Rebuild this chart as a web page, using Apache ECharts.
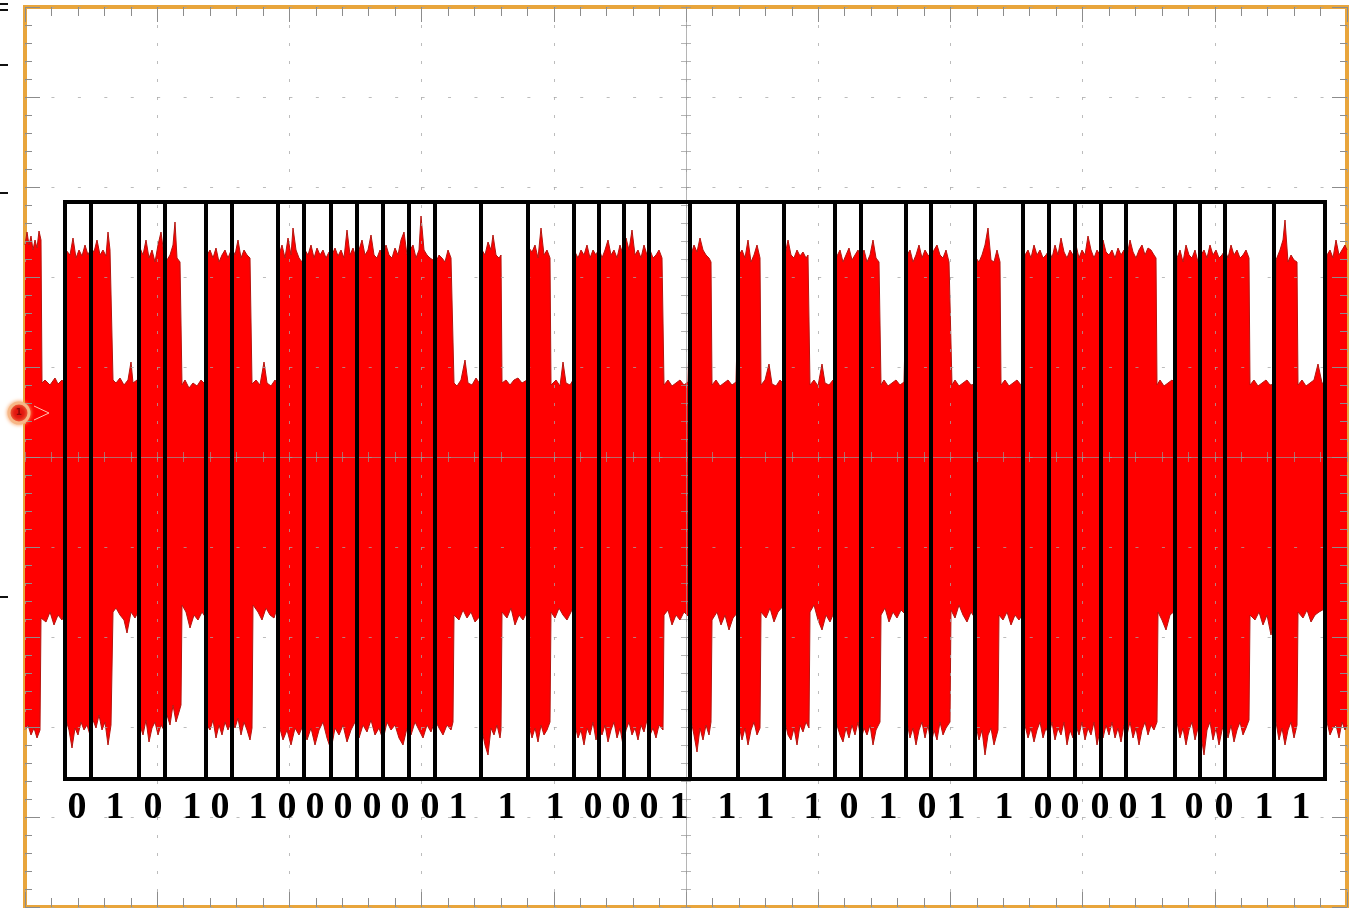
<!DOCTYPE html>
<html>
<head>
<meta charset="utf-8">
<title>ASK burst capture</title>
<script src="https://cdn.jsdelivr.net/npm/echarts@6/dist/echarts.min.js"></script>
<style>
	html, body { margin: 0; padding: 0; background: #fff; }
	#chart { width: 1355px; height: 908px; }
</style>
</head>
<body>
<div id="chart"></div>
<script>
// scope graticule, trace units per division
var DIV_T = 132.2, DIV_V = 90;

// upper envelope of the carrier [t, v]
var traceTop = [
	[-661,212],[-659,225],[-657,212],[-655,221],[-653,207],[-651,217],[-649,209],[-647,226],[-645,217],
	[-644,74],[-641,77],[-636,72],[-631,79],[-628,73],[-624,77],[-622,74],[-621,74],
	[-620,207],[-616,202],[-613,219],[-610,199],[-607,207],[-604,201],[-601,212],[-598,202],[-595,209],[-592,205],[-589,217],[-586,202],[-583,207],[-580,201],[-578,225],[-576,207],[-574,205],
	[-573,77],[-570,74],[-566,79],[-562,72],[-558,77],[-555,95],[-553,74],[-549,77],[-547,72],
	[-546,209],[-543,202],[-540,217],[-537,199],[-534,207],[-531,195],[-528,212],[-525,225],[-522,202],[-519,197],[-516,202],[-513,212],[-511,235],[-509,199],[-506,195],
	[-504,72],[-501,77],[-497,69],[-493,74],[-489,71],[-485,77],[-481,73],[-480,71],
	[-479,202],[-476,207],[-473,199],[-470,209],[-467,195],[-464,202],[-461,207],[-458,199],[-454,209],[-451,202],[-448,217],[-445,199],[-442,207],[-439,202],[-436,199],
	[-434,73],[-430,77],[-426,72],[-422,95],[-419,74],[-415,71],[-411,77],[-408,72],
	[-407,202],[-404,212],[-401,199],[-398,219],[-395,202],[-393,229],[-390,207],[-387,199],[-384,195],[-381,207],[-378,202],[-375,212],[-372,199],[-369,209],[-366,202],[-363,207],[-360,199],[-357,205],[-354,202],[-351,209],[-348,201],[-345,207],[-342,199],[-339,227],[-336,202],[-333,209],[-330,199],[-327,207],[-324,217],[-321,202],[-318,207],[-315,222],[-312,202],[-309,199],[-306,207],[-303,202],[-300,212],[-297,202],[-294,199],[-291,209],[-288,202],[-285,217],[-282,225],[-279,202],[-276,207],[-273,212],[-270,199],[-267,207],[-265,241],[-262,207],[-259,202],[-256,199],[-253,197],[-250,195],[-247,202],[-244,199],[-241,195],[-238,207],[-235,199],[-233,197],
	[-232,74],[-229,71],[-225,77],[-221,97],[-218,74],[-214,72],[-210,79],[-206,73],[-205,73],
	[-204,207],[-201,202],[-198,215],[-195,207],[-193,222],[-190,202],[-187,199],[-185,202],
	[-184,74],[-180,77],[-176,72],[-172,77],[-168,79],[-164,74],[-159,77],[-158,75],
	[-157,209],[-154,205],[-151,212],[-148,199],[-145,229],[-142,202],[-139,207],[-136,199],
	[-135,72],[-130,77],[-126,71],[-123,95],[-120,74],[-116,72],[-113,77],[-112,73],
	[-111,205],[-108,199],[-105,207],[-102,202],[-99,212],[-96,199],[-93,207],[-90,202],[-87,209],[-84,199],[-81,207],[-78,217],[-75,202],[-72,207],[-69,199],[-66,212],[-63,202],[-60,219],[-57,207],[-54,227],[-51,202],[-48,207],[-45,199],[-42,212],[-39,202],[-36,207],[-33,199],[-30,202],[-27,207],[-24,199],
	[-22,72],[-18,77],[-14,71],[-10,74],[-6,77],[-2,72],[2,75],[4,73],
	[5,202],[8,212],[11,205],[14,219],[17,207],[20,202],[23,199],[25,195],
	[26,72],[30,77],[34,71],[38,74],[42,77],[46,72],[50,75],[52,73],
	[53,202],[56,207],[59,199],[62,217],[65,195],[68,202],[71,212],[74,199],
	[75,72],[79,77],[83,93],[86,73],[90,71],[94,77],[98,73],
	[99,202],[102,217],[105,202],[108,199],[111,207],[114,201],[117,205],[120,199],[122,202],
	[124,72],[128,77],[132,71],[136,93],[139,74],[143,72],[147,77],[149,73],
	[150,199],[154,207],[157,195],[160,202],[163,209],[166,197],[169,202],[172,207],[175,199],[178,207],[181,195],[184,202],[187,217],[190,199],[193,195],
	[195,72],[198,77],[202,71],[206,74],[210,77],[214,72],[218,75],[220,73],
	[221,202],[224,207],[227,195],[230,202],[233,212],[236,199],[239,207],[242,202],[245,199],[248,207],[251,212],[254,202],[257,199],[260,207],[263,195],
	[266,72],[269,77],[273,71],[277,74],[281,77],[285,72],[289,73],
	[290,199],[293,195],[296,202],[299,212],[302,229],[305,197],[308,195],[311,207],[314,195],
	[315,72],[319,77],[323,71],[327,74],[331,77],[335,72],[338,73],
	[339,202],[342,207],[345,199],[348,212],[351,202],[354,207],[357,199],[360,202],[363,207],[366,199],[369,212],[372,202],[375,219],[378,205],[381,199],[384,207],[387,202],[390,212],[393,199],[396,207],[399,202],[402,221],[405,207],[408,199],[411,207],[414,202],[417,217],[420,205],[423,202],[426,207],[429,199],[432,209],[435,202],[438,207],[441,201],[444,217],[447,205],[450,199],[453,207],[456,212],[459,202],[462,209],[465,207],[468,202],[470,199],
	[471,72],[474,77],[478,71],[482,74],[486,77],[490,73],
	[491,199],[494,207],[497,195],[500,212],[503,202],[506,199],[509,207],[512,195],[515,202],[518,207],[521,199],[524,212],[527,202],[530,207],[533,199],[536,202],[539,207],[542,199],[545,212],[548,202],[551,207],[554,199],[557,202],[560,207],[563,199],
	[564,72],[568,77],[572,71],[576,74],[580,77],[584,72],[589,73],
	[590,197],[594,207],[597,217],[599,237],[602,195],[605,202],[608,197],[611,195],
	[612,72],[616,77],[620,71],[624,74],[628,77],[632,93],[636,74],[640,73],
	[641,202],[644,207],[647,199],[650,217],[653,202],[656,207],[659,212],[661,207]
];

// lower envelope of the carrier [t, v]
var traceBottom = [
	[-661,-273],[-658,-268],[-655,-278],[-652,-271],[-649,-281],[-646,-273],
	[-645,-161],[-640,-165],[-636,-155],[-632,-168],[-628,-158],[-624,-163],[-621,-155],
	[-620,-263],[-617,-273],[-614,-291],[-611,-271],[-608,-278],[-605,-265],[-602,-273],[-599,-268],[-596,-278],[-593,-263],[-590,-271],[-587,-258],[-584,-273],[-581,-265],[-578,-288],[-575,-268],
	[-573,-155],[-570,-151],[-566,-158],[-562,-163],[-559,-176],[-555,-155],[-551,-161],[-547,-153],
	[-546,-268],[-543,-278],[-540,-263],[-537,-285],[-534,-271],[-531,-265],[-528,-278],[-525,-268],[-522,-273],[-519,-258],[-516,-268],[-513,-248],[-510,-265],[-507,-255],[-505,-248],
	[-504,-148],[-500,-155],[-496,-171],[-492,-158],[-488,-163],[-484,-155],[-480,-161],
	[-479,-268],[-476,-273],[-473,-263],[-470,-281],[-467,-268],[-464,-278],[-461,-265],[-458,-273],[-454,-263],[-451,-271],[-448,-261],[-445,-278],[-442,-265],[-439,-273],[-436,-283],[-434,-271],
	[-433,-148],[-428,-155],[-424,-163],[-420,-151],[-416,-158],[-412,-161],[-408,-148],
	[-407,-268],[-403,-283],[-399,-273],[-395,-288],[-391,-271],[-387,-278],[-383,-268],[-379,-283],[-375,-271],[-371,-288],[-367,-273],[-363,-265],[-359,-281],[-355,-293],[-351,-271],[-347,-278],[-343,-268],[-339,-285],[-335,-273],[-331,-265],[-327,-281],[-323,-268],[-319,-275],[-315,-263],[-311,-278],[-307,-271],[-303,-283],[-299,-265],[-295,-273],[-291,-268],[-287,-281],[-283,-288],[-279,-271],[-275,-278],[-271,-265],[-267,-273],[-263,-281],[-259,-268],[-255,-275],[-251,-263],[-247,-271],[-243,-278],[-239,-268],[-235,-273],[-233,-265],
	[-232,-158],[-227,-163],[-223,-153],[-219,-161],[-215,-155],[-211,-165],[-205,-158],
	[-204,-273],[-201,-288],[-198,-298],[-195,-271],[-192,-278],[-189,-268],[-186,-281],[-185,-273],
	[-184,-155],[-179,-161],[-175,-151],[-171,-168],[-167,-158],[-163,-163],[-158,-153],
	[-157,-268],[-154,-281],[-151,-271],[-148,-285],[-145,-268],[-142,-278],[-139,-273],[-136,-265],
	[-135,-155],[-131,-161],[-127,-151],[-123,-158],[-119,-163],[-115,-155],[-112,-148],
	[-111,-268],[-108,-281],[-105,-273],[-102,-288],[-99,-271],[-96,-278],[-93,-265],[-90,-283],[-87,-271],[-84,-278],[-81,-268],[-78,-285],[-75,-273],[-72,-265],[-69,-281],[-66,-271],[-63,-288],[-60,-273],[-57,-265],[-54,-278],[-51,-271],[-48,-283],[-45,-268],[-42,-275],[-39,-263],[-36,-278],[-33,-271],[-30,-281],[-27,-268],[-23,-273],
	[-22,-158],[-18,-153],[-14,-168],[-10,-158],[-6,-163],[-2,-155],[4,-161],
	[5,-263],[8,-278],[11,-295],[14,-271],[17,-283],[20,-268],[23,-278],[25,-265],
	[26,-163],[31,-155],[35,-168],[39,-158],[43,-173],[47,-161],[52,-155],
	[53,-268],[56,-283],[59,-271],[62,-288],[65,-273],[68,-265],[71,-278],[74,-271],
	[75,-155],[80,-161],[84,-151],[88,-165],[92,-155],[98,-148],
	[99,-265],[102,-278],[105,-283],[108,-271],[111,-288],[114,-268],[117,-275],[120,-265],[123,-271],
	[124,-155],[128,-148],[132,-163],[136,-173],[140,-158],[144,-165],[149,-153],
	[150,-265],[154,-278],[157,-285],[160,-271],[163,-281],[166,-268],[169,-278],[172,-265],[175,-283],[178,-271],[181,-278],[184,-268],[187,-288],[190,-273],[194,-265],
	[195,-158],[199,-151],[203,-165],[207,-155],[211,-161],[215,-153],[220,-158],
	[221,-265],[224,-281],[227,-271],[230,-288],[233,-273],[236,-265],[239,-281],[242,-268],[245,-288],[248,-273],[251,-283],[254,-265],[257,-278],[260,-271],[264,-265],
	[265,-153],[269,-161],[273,-148],[277,-158],[281,-165],[285,-155],[289,-161],
	[290,-268],[293,-283],[296,-273],[299,-298],[302,-278],[305,-271],[308,-288],[312,-273],
	[313,-158],[317,-163],[321,-155],[325,-168],[329,-158],[333,-163],[338,-155],
	[339,-268],[342,-281],[345,-271],[348,-285],[351,-273],[354,-265],[357,-281],[360,-271],[363,-278],[366,-265],[369,-283],[372,-271],[375,-278],[378,-265],[381,-288],[384,-273],[387,-281],[390,-268],[393,-278],[396,-265],[399,-283],[402,-271],[405,-278],[408,-265],[411,-288],[414,-273],[417,-281],[420,-268],[423,-278],[426,-265],[429,-281],[432,-271],[435,-285],[438,-268],[441,-278],[444,-265],[447,-281],[450,-271],[453,-288],[456,-273],[459,-265],[462,-278],[465,-268],[468,-273],[471,-265],
	[472,-155],[476,-163],[480,-173],[484,-158],[490,-153],
	[491,-265],[494,-281],[497,-271],[500,-288],[503,-273],[506,-265],[509,-283],[512,-271],[515,-278],[518,-298],[521,-273],[524,-265],[527,-283],[530,-271],[533,-288],[536,-273],[539,-265],[542,-281],[545,-268],[548,-285],[551,-273],[554,-265],[557,-278],[560,-271],[563,-263],
	[564,-158],[569,-163],[573,-155],[577,-168],[581,-158],[585,-178],[589,-155],
	[590,-265],[593,-283],[596,-271],[599,-288],[602,-273],[605,-265],[608,-281],[611,-268],
	[612,-155],[617,-161],[621,-153],[625,-165],[629,-158],[633,-155],[640,-151],
	[641,-265],[644,-278],[647,-271],[650,-268],[653,-281],[656,-265],[659,-273],[661,-268]
];

// bit windows drawn over the trace
var bitEdges = [-621,-595,-547,-521,-480,-454,-408,-382,-355,-329,-303,-277,-251,-205,-158,-112,-87,-62,-37,4,52,98,149,175,220,245,289,337,363,389,415,440,489,514,539,588,639];
var bitLabelPos = [-609,-571,-533,-494,-466,-428,-399,-371,-343,-314,-286,-256,-228,-179,-131,-93,-65,-37,-7,41,79,127,163,202,241,270,318,357,384,414,442,472,508,538,578,615];
var bits = [0,1,0,1,0,1,0,0,0,0,0,0,1,1,1,0,0,0,1,1,1,1,0,1,0,1,1,0,0,0,0,1,0,0,1,1];
var boxTop = 255, boxBottom = -322, labelLevel = -351;

var tickStyle = { color: '#8c8c8c', width: 1 };
var centerStyle = { color: 'rgba(150,150,150,0.7)', width: 1 };

function frameAxis(dim, position, withGrid) {
	var isX = dim == 'x';
	return {
		type: 'value',
		position: position,
		min: isX ? -5 * DIV_T : -5 * DIV_V,
		max: isX ? 5 * DIV_T : 5 * DIV_V,
		interval: isX ? DIV_T : DIV_V,
		axisLabel: { show: false },
		axisLine: { show: false, onZero: false },
		axisTick: { show: true, inside: true, length: 15, lineStyle: tickStyle },
		minorTick: { show: true, splitNumber: 5, length: isX ? 9 : 7, lineStyle: tickStyle },
		splitLine: {
			show: withGrid,
			lineStyle: { color: 'rgba(165,165,165,0.75)', width: 1, type: isX ? [3, 15] : [3, 23.44] }
		},
		z: 3
	};
}

function centerAxis(dim, inside, showLine) {
	var isX = dim == 'x';
	return {
		type: 'value',
		position: isX ? 'bottom' : 'left',
		min: isX ? -5 * DIV_T : -5 * DIV_V,
		max: isX ? 5 * DIV_T : 5 * DIV_V,
		interval: isX ? DIV_T : DIV_V,
		axisLabel: { show: false },
		axisLine: { show: showLine, onZero: true, onZeroAxisIndex: 0, lineStyle: centerStyle },
		axisTick: { show: true, inside: inside, length: 5, lineStyle: centerStyle },
		minorTick: { show: true, splitNumber: 5, length: 5, lineStyle: centerStyle },
		splitLine: { show: false },
		z: 4
	};
}

function each(arr, fn) {
	for (var i = 0; i < arr.length; i++) fn(arr[i], i);
}

function boxLines() {
	var lines = [];
	each(bitEdges, function(t) {
		lines.push([{ coord: [t, boxTop] }, { coord: [t, boxBottom] }]);
	});
	var first = bitEdges[0], last = bitEdges[bitEdges.length - 1];
	lines.push([{ coord: [first, boxTop] }, { coord: [last, boxTop] }]);
	lines.push([{ coord: [first, boxBottom] }, { coord: [last, boxBottom] }]);
	return lines;
}

var labelData = [];
each(bitLabelPos, function(t, i) {
	labelData.push([t, labelLevel, bits[i]]);
});

var envelope = {
	type: 'line',
	xAxisIndex: 0,
	yAxisIndex: 0,
	showSymbol: false,
	symbol: 'none',
	silent: true,
	lineStyle: { color: '#b5140e', width: 1 },
	areaStyle: { color: '#ff0000', opacity: 1 },
	z: 2
};

var chart = echarts.init(document.getElementById('chart'));
chart.setOption({
	animation: false,
	backgroundColor: '#ffffff',
	grid: {
		left: 25,
		top: 7,
		width: 1322,
		height: 900,
		show: true,
		backgroundColor: '#ffffff',
		borderColor: '#e8a53c',
		borderWidth: 4
	},
	xAxis: [
		frameAxis('x', 'bottom', true),
		frameAxis('x', 'top', false),
		centerAxis('x', true, true),
		centerAxis('x', false, false)
	],
	yAxis: [
		frameAxis('y', 'left', true),
		frameAxis('y', 'right', false),
		centerAxis('y', true, true),
		centerAxis('y', false, false)
	],
	graphic: [
		{ type: 'line', shape: { x1: 0, y1: 4, x2: 8, y2: 4 }, style: { stroke: '#111', lineWidth: 2 } },
		{ type: 'line', shape: { x1: 0, y1: 10, x2: 8, y2: 10 }, style: { stroke: '#111', lineWidth: 2 } },
		{ type: 'line', shape: { x1: 0, y1: 65, x2: 8, y2: 65 }, style: { stroke: '#111', lineWidth: 2 } },
		{ type: 'line', shape: { x1: 0, y1: 193, x2: 8, y2: 193 }, style: { stroke: '#111', lineWidth: 2 } },
		{ type: 'line', shape: { x1: 0, y1: 597, x2: 8, y2: 597 }, style: { stroke: '#111', lineWidth: 2 } },
		// channel 1 ground marker
		{
			type: 'circle', z: 20,
			shape: { cx: 19, cy: 413, r: 10 },
			style: { fill: '#e3160e', stroke: '#f6b787', lineWidth: 3, shadowBlur: 4, shadowColor: '#f7a060' }
		},
		{
			type: 'text', z: 21,
			style: { x: 19, y: 413, text: '1', fill: '#8a0a05', font: 'bold 9px "DejaVu Sans"', align: 'center', verticalAlign: 'middle' }
		},
		{
			type: 'polyline', z: 20,
			shape: { points: [[34, 406], [49, 413], [34, 420]] },
			style: { stroke: '#ffc4b0', lineWidth: 1, fill: null }
		}
	],
	series: [
		Object.assign({ name: 'top', data: traceTop }, envelope),
		Object.assign({ name: 'bottom', data: traceBottom }, envelope),
		{
			type: 'line',
			data: [],
			z: 10,
			markLine: {
				silent: true,
				animation: false,
				symbol: ['none', 'none'],
				label: { show: false },
				lineStyle: { color: '#000', width: 4, type: 'solid', cap: 'square' },
				data: boxLines()
			}
		},
		{
			type: 'scatter',
			data: labelData,
			symbolSize: 1,
			silent: true,
			itemStyle: { color: 'transparent', opacity: 1 },
			z: 11,
			label: {
				show: true,
				position: 'inside',
				formatter: function(p) {
					return p.value[2];
				},
				color: '#000',
				opacity: 1,
				textBorderWidth: 0,
				fontFamily: '"Liberation Serif", "Times New Roman", serif',
				fontWeight: 'bold',
				fontSize: 38
			}
		}
	]
});
</script>
</body>
</html>
